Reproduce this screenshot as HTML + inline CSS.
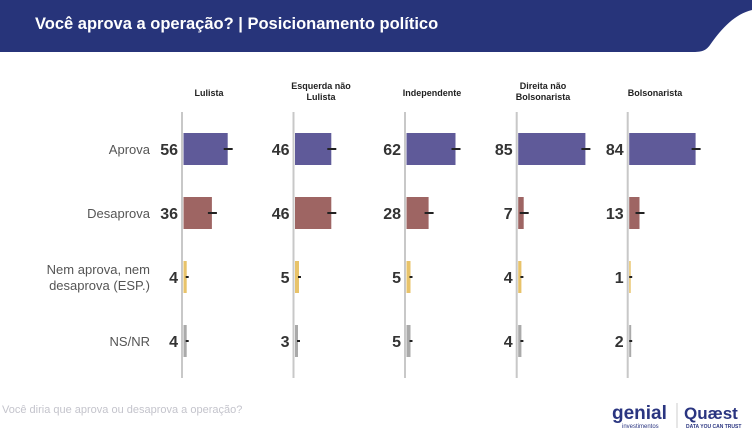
<!DOCTYPE html>
<html><head><meta charset="utf-8"><style>
body{margin:0;width:752px;height:440px;background:#fff;overflow:hidden;font-family:"Liberation Sans",sans-serif}
</style></head><body>
<svg width="752" height="440" xmlns="http://www.w3.org/2000/svg" font-family="Liberation Sans, sans-serif">
<path d="M0 0H752V10C735 14 722 28 710 45C705 52 700 52 690 52H0Z" fill="#27347a"/>
<text x="35" y="29" fill="#fff" font-size="16.5" font-weight="bold">Você aprova a operação? | Posicionamento político</text>
<g font-size="9" font-weight="bold" fill="#222" text-anchor="middle">
<text x="209" y="96">Lulista</text>
<text x="321" y="89">Esquerda não</text><text x="321" y="100">Lulista</text>
<text x="432" y="96">Independente</text>
<text x="543" y="89">Direita não</text><text x="543" y="100">Bolsonarista</text>
<text x="655" y="96">Bolsonarista</text>
</g>
<g font-size="13" fill="#555" text-anchor="end">
<text x="150" y="154">Aprova</text>
<text x="150" y="218">Desaprova</text>
<text x="150" y="274">Nem aprova, nem</text>
<text x="150" y="290">desaprova (ESP.)</text>
<text x="150" y="346">NS/NR</text>
</g>
<g stroke="#c8c8c8" stroke-width="2">
<line x1="182" y1="112" x2="182" y2="378"/>
<line x1="293.5" y1="112" x2="293.5" y2="378"/>
<line x1="405" y1="112" x2="405" y2="378"/>
<line x1="516.7" y1="112" x2="516.7" y2="378"/>
<line x1="627.7" y1="112" x2="627.7" y2="378"/>
</g>
<g>
<rect x="183.5" y="133" width="44.2" height="32" fill="#5f5a99"/>
<rect x="183.5" y="197" width="28.4" height="32" fill="#9e6563"/>
<rect x="183.5" y="261" width="3.2" height="32" fill="#e8c36a"/>
<rect x="183.5" y="325" width="3.2" height="32" fill="#aaaaaa"/>
<rect x="295" y="133" width="36.3" height="32" fill="#5f5a99"/>
<rect x="295" y="197" width="36.3" height="32" fill="#9e6563"/>
<rect x="295" y="261" width="4" height="32" fill="#e8c36a"/>
<rect x="295" y="325" width="3" height="32" fill="#aaaaaa"/>
<rect x="406.5" y="133" width="49" height="32" fill="#5f5a99"/>
<rect x="406.5" y="197" width="22.1" height="32" fill="#9e6563"/>
<rect x="406.5" y="261" width="4" height="32" fill="#e8c36a"/>
<rect x="406.5" y="325" width="4" height="32" fill="#aaaaaa"/>
<rect x="518.2" y="133" width="67.2" height="32" fill="#5f5a99"/>
<rect x="518.2" y="197" width="5.5" height="32" fill="#9e6563"/>
<rect x="518.2" y="261" width="3.2" height="32" fill="#e8c36a"/>
<rect x="518.2" y="325" width="3.2" height="32" fill="#aaaaaa"/>
<rect x="629.2" y="133" width="66.4" height="32" fill="#5f5a99"/>
<rect x="629.2" y="197" width="10.3" height="32" fill="#9e6563"/>
<rect x="629.2" y="261" width="1.5" height="32" fill="#e8c36a"/>
<rect x="629.2" y="325" width="2" height="32" fill="#aaaaaa"/>
</g>
<g stroke="#222" stroke-width="2">
<line x1="223.7" y1="149" x2="232.7" y2="149"/>
<line x1="207.9" y1="213" x2="216.9" y2="213"/>
<line x1="185.7" y1="277" x2="188.7" y2="277"/>
<line x1="185.7" y1="341" x2="188.7" y2="341"/>
<line x1="327.3" y1="149" x2="336.3" y2="149"/>
<line x1="327.3" y1="213" x2="336.3" y2="213"/>
<line x1="298" y1="277" x2="301" y2="277"/>
<line x1="297" y1="341" x2="300" y2="341"/>
<line x1="451.5" y1="149" x2="460.5" y2="149"/>
<line x1="424.6" y1="213" x2="433.6" y2="213"/>
<line x1="409.5" y1="277" x2="412.5" y2="277"/>
<line x1="409.5" y1="341" x2="412.5" y2="341"/>
<line x1="581.4" y1="149" x2="590.4" y2="149"/>
<line x1="519.7" y1="213" x2="528.7" y2="213"/>
<line x1="520.4" y1="277" x2="523.4" y2="277"/>
<line x1="520.4" y1="341" x2="523.4" y2="341"/>
<line x1="691.6" y1="149" x2="700.6" y2="149"/>
<line x1="635.5" y1="213" x2="644.5" y2="213"/>
<line x1="629.2" y1="277" x2="632.2" y2="277"/>
<line x1="629.2" y1="341" x2="632.2" y2="341"/>
</g>
<g font-size="16" font-weight="bold" fill="#333" text-anchor="end">
<text x="178" y="155">56</text><text x="178" y="219">36</text><text x="178" y="283">4</text><text x="178" y="347">4</text>
<text x="289.5" y="155">46</text><text x="289.5" y="219">46</text><text x="289.5" y="283">5</text><text x="289.5" y="347">3</text>
<text x="401" y="155">62</text><text x="401" y="219">28</text><text x="401" y="283">5</text><text x="401" y="347">5</text>
<text x="512.7" y="155">85</text><text x="512.7" y="219">7</text><text x="512.7" y="283">4</text><text x="512.7" y="347">4</text>
<text x="623.7" y="155">84</text><text x="623.7" y="219">13</text><text x="623.7" y="283">1</text><text x="623.7" y="347">2</text>
</g>
<text x="2" y="413" font-size="11" fill="#c4c4cc">Você diria que aprova ou desaprova a operação?</text>
<text x="612" y="419" font-size="19" font-weight="bold" fill="#2a3580">genial</text>
<text x="622" y="428" font-size="6" fill="#2a3580">investimentos</text>
<line x1="677" y1="403" x2="677" y2="428" stroke="#ccc"/>
<text x="684" y="419" font-size="17" font-weight="bold" fill="#2a3580">Quæst</text>
<text x="686" y="428" font-size="5" font-weight="bold" fill="#2a3580">DATA YOU CAN TRUST</text>
</svg>
</body></html>
